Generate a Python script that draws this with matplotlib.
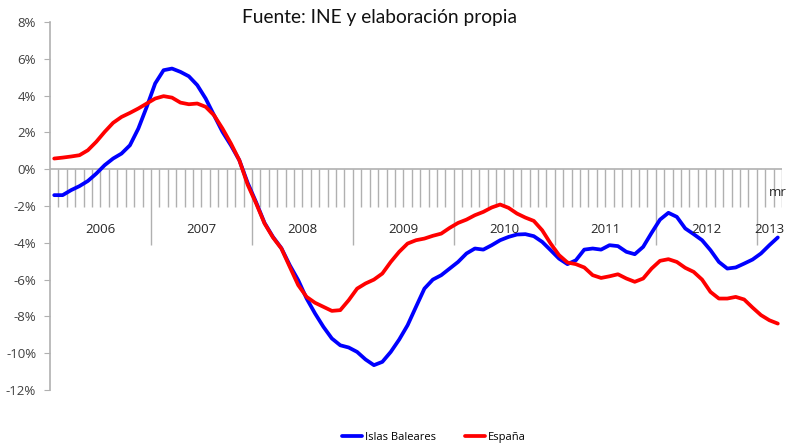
import numpy as np
import matplotlib
matplotlib.use("Agg")
import matplotlib.pyplot as plt

# variacion interanual mensual, ene 2006 - mar 2013
years = ['2006', '2007', '2008', '2009', '2010', '2011', '2012', '2013']
last_month_label = 'mr'

baleares = [-1.41, -1.41, -1.14, -0.92, -0.64, -0.24, 0.22, 0.58, 0.85, 1.30, 2.21, 3.39,
            4.66, 5.38, 5.47, 5.29, 5.05, 4.57, 3.84, 2.93, 2.03, 1.30, 0.49, -0.75,
            -1.80, -2.92, -3.68, -4.29, -5.22, -6.03, -7.03, -7.84, -8.57, -9.20, -9.57, -9.69,
            -9.93, -10.34, -10.65, -10.47, -9.93, -9.26, -8.48, -7.48, -6.49, -6.00, -5.76, -5.40,
            -5.04, -4.58, -4.31, -4.37, -4.13, -3.86, -3.68, -3.55, -3.53, -3.64, -3.95, -4.40,
            -4.86, -5.16, -4.95, -4.37, -4.31, -4.37, -4.13, -4.18, -4.49, -4.62, -4.22, -3.46,
            -2.74, -2.37, -2.59, -3.22, -3.53, -3.86, -4.40, -5.04, -5.40, -5.34, -5.13, -4.91,
            -4.58, -4.13, -3.71]

espana = [0.58, 0.63, 0.69, 0.76, 1.03, 1.49, 2.03, 2.52, 2.84, 3.06, 3.30, 3.57,
          3.84, 3.97, 3.89, 3.62, 3.53, 3.57, 3.39, 2.93, 2.21, 1.40, 0.49, -0.85,
          -1.86, -2.95, -3.71, -4.31, -5.31, -6.30, -6.94, -7.26, -7.48, -7.70, -7.66, -7.12,
          -6.49, -6.21, -6.00, -5.67, -5.04, -4.49, -4.04, -3.86, -3.77, -3.62, -3.50, -3.19,
          -2.92, -2.74, -2.50, -2.32, -2.08, -1.92, -2.10, -2.41, -2.63, -2.81, -3.32, -4.04,
          -4.67, -5.07, -5.16, -5.34, -5.76, -5.91, -5.82, -5.71, -5.94, -6.12, -5.94, -5.40,
          -4.98, -4.89, -5.04, -5.36, -5.58, -6.00, -6.67, -7.03, -7.03, -6.94, -7.08, -7.52,
          -7.93, -8.21, -8.39]

yticks = [8, 6, 4, 2, 0, -2, -4, -6, -8, -10, -12]

n = len(baleares)
x = np.arange(n)

plt.rcParams['font.family'] = ['Open Sans', 'DejaVu Sans']

fig = plt.figure(figsize=(7.86, 4.44), dpi=100)
ax = fig.add_axes([50/786, 1-390/444, 732/786, 368/444])

ax.plot(x, baleares, color='#0000ff', lw=2.7, label='Islas Baleares',
        solid_capstyle='round', solid_joinstyle='round')
ax.plot(x, espana, color='#ff0000', lw=2.7, label='España',
        solid_capstyle='round', solid_joinstyle='round')

ax.set_xlim(-0.5, n - 0.5)
ax.set_ylim(-12, 8)

# eje de categorias en 0
grey = '#b0b0b0'
ax.axhline(0, color=grey, lw=1.2, zorder=1)
bounds = np.arange(n + 1) - 0.5
for b in bounds[1:]:
    if round(b + 0.5) % 12 == 0 and b < n - 0.5:
        ax.vlines(b, -4.13, 0, color=grey, lw=1.0, zorder=1)
    else:
        ax.vlines(b, -2.07, 0, color=grey, lw=1.0, zorder=1)

for k, yr in enumerate(years):
    start = k * 12
    end = min(start + 12, n)
    ax.text((start + end - 1) / 2, -3.3, yr, ha='center', va='center',
            fontsize=9.5, color='#262626')
ax.text(n - 1, -1.25, last_month_label, ha='center', va='center', fontsize=9.5,
        color='#262626', clip_on=False)

ax.set_yticks(yticks)
ax.set_yticklabels([f'{v}%' for v in yticks])
ax.tick_params(axis='y', length=4, color=grey, labelsize=9.5, labelcolor='#404040', pad=6)
ax.set_xticks([])
for s in ['top', 'right', 'bottom']:
    ax.spines[s].set_visible(False)
ax.spines['left'].set_color(grey)
ax.spines['left'].set_linewidth(1.2)

fig.text(380/786, 1-18/444, 'Fuente: INE y elaboración propia', ha='center', va='center',
         fontsize=13.8, family=['Lato', 'DejaVu Sans'], color='#111111')

fig.legend(loc='center', bbox_to_anchor=(434/786, 1-437/444), ncol=2, frameon=False,
           fontsize=8, handlelength=1.8, handletextpad=0.3, columnspacing=2.6)

fig.savefig('out.png', dpi=100)
